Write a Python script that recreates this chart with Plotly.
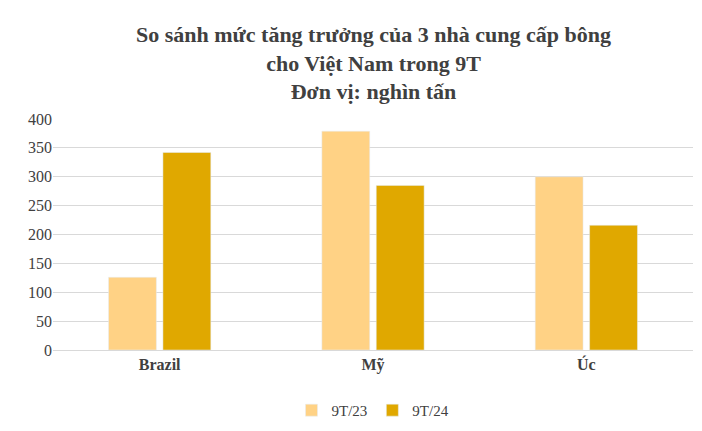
import plotly.graph_objects as go

categories = ["Brazil", "Mỹ", "Úc"]
s23 = [126, 379, 300]
s24 = [342, 285, 216]
ticks = [0, 50, 100, 150, 200, 250, 300, 350, 400]

fig = go.Figure()
fig.add_bar(x=categories, y=s23, name="9T/23", marker_color="#FFD285")
fig.add_bar(x=categories, y=s24, name="9T/24", marker_color="#E0A800")
tf = dict(family="Liberation Serif", size=16, color="#404040")
fig.update_layout(
    width=702, height=431, plot_bgcolor="white", paper_bgcolor="white",
    margin=dict(l=45, r=17, t=111, b=76),
    barmode="group", bargap=0.49, bargroupgap=0.12,
    legend=dict(orientation="h", x=0.5, xanchor="center", y=-0.19, yanchor="top",
                font=dict(family="Liberation Serif", size=15, color="#404040")),
    showlegend=True,
)
fig.add_annotation(text="<b>So sánh mức tăng trưởng của 3 nhà cung cấp bông<br>cho Việt Nam trong 9T<br>Đơn vị: nghìn tấn</b>",
                   xref="paper", yref="paper", x=0.5, y=1.43, xanchor="center", yanchor="top",
                   showarrow=False, font=dict(family="Liberation Serif", size=22, color="#404040"))
fig.update_yaxes(range=[0, 400], tickvals=ticks, gridcolor="#D9D9D9", zeroline=False,
                 showline=False, tickfont=tf, ticklen=0)
fig.update_xaxes(showline=True, linecolor="#D9D9D9", tickfont=tf,
                 tickprefix="<b>", ticksuffix="</b>")
fig.write_html("out.html")
